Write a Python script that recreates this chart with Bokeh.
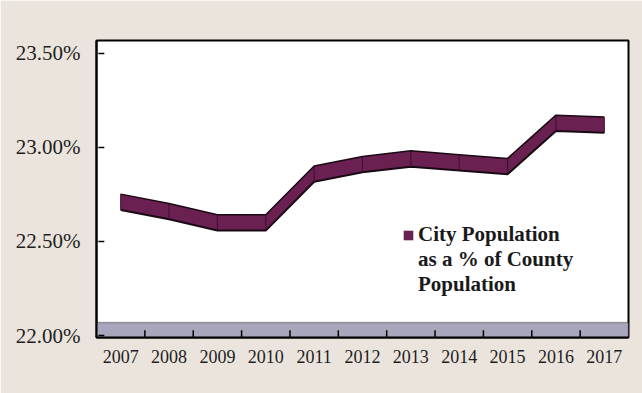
from bokeh.plotting import figure
from bokeh.models import (Range1d, FixedTicker, PrintfTickFormatter, BoxAnnotation,
                          Legend, LegendItem, ColumnDataSource)
from bokeh.embed import file_html
from bokeh.resources import INLINE

years = ["2007", "2008", "2009", "2010", "2011", "2012", "2013", "2014", "2015", "2016", "2017"]
city_pct = [22.71, 22.66, 22.60, 22.60, 22.86, 22.91, 22.94, 22.92, 22.90, 23.13, 23.12]
y_ticks = [22.0, 22.5, 23.0, 23.5]
legend_lines = ["City Population", "as a % of County", "Population"]

idx = list(range(1, len(years) + 1))
half = 0.042  # half thickness of the 3D ribbon, in axis units
src = ColumnDataSource(dict(
    x=idx,
    y=city_pct,
    lo=[v - half for v in city_pct],
    hi=[v + half for v in city_pct],
))

X0, X1 = 0.5, len(years) + 0.5
Y0, Y1 = 21.9894, 23.569

BG = "#ebe4dd"
p = figure(width=642, height=393, output_backend="svg", toolbar_location=None,
           x_range=Range1d(X0, X1), y_range=Range1d(Y0, Y1),
           min_border_left=96, min_border_right=14, min_border_top=40, min_border_bottom=56)
p.background_fill_color = "white"
p.border_fill_color = BG
p.outline_line_color = "black"
p.outline_line_width = 2
p.xgrid.visible = False
p.ygrid.visible = False

# floor of the 3D chart
floor = BoxAnnotation(top=22.069, fill_color="#a7a6bc", fill_alpha=1,
                      line_color="black", line_width=1.5, level="underlay")
p.add_layout(floor)

# inward tick marks (left wall and floor)
p.scatter(x=[X0 + 0.1] * len(y_ticks), y=y_ticks, marker="dash", size=6,
          line_color="black", line_width=1.5)
bounds = [i + 0.5 for i in idx[:-1]]
p.scatter(x=bounds, y=[Y0 + 0.02] * len(bounds), marker="dash", size=7, angle=1.5708,
          line_color="black", line_width=1.5)

# ribbon
ribbon = p.varea(x="x", y1="lo", y2="hi", source=src, fill_color="#6a2050")
p.line(x="x", y="hi", source=src, line_color="#1a0a14", line_width=1.5)
p.line(x="x", y="lo", source=src, line_color="#1a0a14", line_width=2)
p.segment(x0="x", y0="lo", x1="x", y1="hi", source=src, line_color="#3a1030", line_width=1)

# empty renderer for the continuation lines of the legend text
blank = p.scatter(x=[], y=[], marker="square", fill_alpha=0, line_alpha=0)

# axes
xa = p.xaxis[0]
xa.ticker = FixedTicker(ticks=idx)
xa.major_label_overrides = {i: y for i, y in zip(idx, years)}
xa.major_tick_in = 0
xa.major_tick_out = 0
xa.minor_tick_in = 0
xa.minor_tick_out = 0
xa.axis_line_color = "black"
xa.axis_line_width = 2
xa.major_label_standoff = 12
xa.major_label_text_font = "Liberation Serif"
xa.major_label_text_font_size = "18px"
xa.major_label_text_color = "#1e1e1e"

ya = p.yaxis[0]
ya.ticker = FixedTicker(ticks=y_ticks)
ya.formatter = PrintfTickFormatter(format="%.2f%%")
ya.major_tick_in = 0
ya.major_tick_out = 0
ya.minor_tick_in = 0
ya.minor_tick_out = 0
ya.axis_line_color = "black"
ya.axis_line_width = 2
ya.major_label_standoff = 16
ya.major_label_text_font = "Liberation Serif"
ya.major_label_text_font_size = "21px"
ya.major_label_text_color = "#1e1e1e"

items = [LegendItem(label=legend_lines[0], renderers=[ribbon])]
items += [LegendItem(label=t, renderers=[blank]) for t in legend_lines[1:]]
legend = Legend(items=items,
                location=(306, 40), padding=0, margin=0, spacing=0,
                background_fill_alpha=0, border_line_alpha=0,
                glyph_width=12, glyph_height=12, label_standoff=4,
                label_height=25,
                label_text_font="Liberation Serif", label_text_font_style="bold",
                label_text_font_size="21px", label_text_color="#1a1a1a")
p.add_layout(legend)

open("out.html", "w").write(file_html(p, INLINE))
